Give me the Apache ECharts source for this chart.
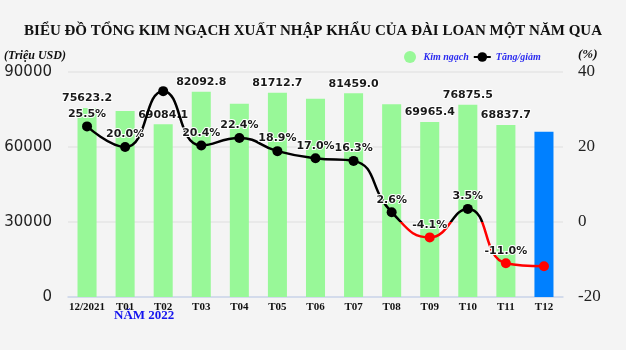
<!DOCTYPE html>
<html>
<head>
<meta charset="utf-8">
<script src="https://cdn.jsdelivr.net/npm/echarts@6/dist/echarts.min.js"></script>
<style>
  html, body { margin: 0; padding: 0; background: #f4f4f4; }
  #chart { width: 626px; height: 350px; }
</style>
</head>
<body>
<div id="chart"></div>
<script>
// Monthly total trade turnover (million USD) and year-on-year change (%)
const categories = ['12/2021', 'T01', 'T02', 'T03', 'T04', 'T05', 'T06', 'T07', 'T08', 'T09', 'T10', 'T11', 'T12'];
const tradeValues = [75623.2, 74400, 69084.1, 82092.8, 77300, 81712.7, 79300, 81459.0, 77100, 69965.4, 76875.5, 68837.7, 66100];
const changePct = [25.5, 20.0, 34.9, 20.4, 22.4, 18.9, 17.0, 16.3, 2.6, -4.1, 3.5, -11.0, -11.8];
const leftTicks = [0, 30000, 60000, 90000];
const rightTicks = [-20, 0, 20, 40];

// Which points carry a printed value
const tradeLabelShown = [true, false, true, true, false, true, false, true, false, true, true, true, false];
const pctLabelShown = [true, true, false, true, true, true, true, true, true, true, true, true, false];

const serif = '"Liberation Serif", "Times New Roman", serif';
const sans = '"DejaVu Sans", Verdana, sans-serif';
const legendBlue = '#2b2bf0';

const chart = echarts.init(document.getElementById('chart'), null, { renderer: 'canvas' });

const lastIndex = categories.length - 1;
const barData = tradeValues.map((v, i) => ({
  value: v,
  itemStyle: i === lastIndex ? { color: '#0080ff' } : undefined,
  label: { show: tradeLabelShown[i] }
}));
const lineData = changePct.map((v, i) => ({
  value: v,
  label: { show: pctLabelShown[i] }
}));

const valueLabelStyle = {
  position: 'top',
  color: '#1a1a1a',
  fontFamily: sans,
  fontWeight: 'bold',
  fontSize: 11,
  textBorderColor: '#ffffff',
  textBorderWidth: 2
};

chart.setOption({
  backgroundColor: '#f4f4f4',
  animation: false,
  title: {
    text: 'BIỂU ĐỒ TỔNG KIM NGẠCH XUẤT NHẬP KHẨU CỦA ĐÀI LOAN MỘT NĂM QUA',
    left: 'center',
    top: 19,
    textStyle: { fontFamily: serif, fontWeight: 'bold', fontSize: 15, color: '#111' }
  },
  legend: {
    left: 399,
    top: 46,
    itemWidth: 17,
    itemHeight: 12,
    itemGap: 4,
    textStyle: { fontFamily: serif, fontStyle: 'italic', fontWeight: 'bold', fontSize: 10, color: legendBlue },
    data: [{ name: 'Kim ngạch', icon: 'circle' }, { name: 'Tăng/giảm' }]
  },
  graphic: [
    {
      type: 'text', left: 4, top: 50,
      style: { text: '(Triệu USD)', fill: '#111', font: 'italic bold 12px ' + serif }
    },
    {
      type: 'text', left: 578, top: 48,
      style: { text: '(%)', fill: '#111', font: 'italic bold 13px ' + serif }
    },
    {
      type: 'text', left: 114, top: 309,
      style: { text: 'NĂM 2022', fill: '#1414ee', font: 'bold 13px ' + serif }
    }
  ],
  grid: { left: 68, right: 63, top: 72, bottom: 53 },
  xAxis: {
    type: 'category',
    data: categories,
    axisTick: { show: false },
    axisLine: { lineStyle: { color: '#ccd6eb', width: 1.5 } },
    axisLabel: { interval: 0, color: '#111', fontFamily: serif, fontWeight: 'bold', fontSize: 11, margin: 5 }
  },
  yAxis: [
    {
      type: 'value',
      min: leftTicks[0],
      max: leftTicks[leftTicks.length - 1],
      interval: leftTicks[1] - leftTicks[0],
      axisLine: { show: false },
      axisTick: { show: false },
      splitLine: { lineStyle: { color: '#e6e6e6', width: 1.5 } },
      axisLabel: { color: '#222', fontFamily: sans, fontSize: 15, margin: 16, formatter: v => String(v) }
    },
    {
      type: 'value',
      min: rightTicks[0],
      max: rightTicks[rightTicks.length - 1],
      interval: rightTicks[1] - rightTicks[0],
      axisLine: { show: false },
      axisTick: { show: false },
      splitLine: { show: false },
      axisLabel: { color: '#222', fontFamily: serif, fontSize: 17, margin: 15, formatter: v => String(v) }
    }
  ],
  // Growth line turns red below zero
  visualMap: {
    show: false,
    type: 'piecewise',
    seriesIndex: 1,
    pieces: [
      { min: -1000, max: 0, color: '#ff0000' },
      { gt: 0, max: 1000, color: '#000000' }
    ],
    outOfRange: { color: '#000000' }
  },
  series: [
    {
      name: 'Kim ngạch',
      type: 'bar',
      yAxisIndex: 0,
      barWidth: '50%',
      itemStyle: { color: '#98f898' },
      label: Object.assign({ distance: 4, formatter: p => p.value.toFixed(1) }, valueLabelStyle),
      data: barData,
      z: 2
    },
    {
      name: 'Tăng/giảm',
      type: 'line',
      yAxisIndex: 1,
      smooth: true,
      symbol: 'circle',
      symbolSize: 10,
      itemStyle: { color: '#000000' },
      lineStyle: { width: 2.5 },
      label: Object.assign({ distance: 2, formatter: p => p.value.toFixed(1) + '%' }, valueLabelStyle),
      data: lineData,
      z: 3
    }
  ]
});
</script>
</body>
</html>
